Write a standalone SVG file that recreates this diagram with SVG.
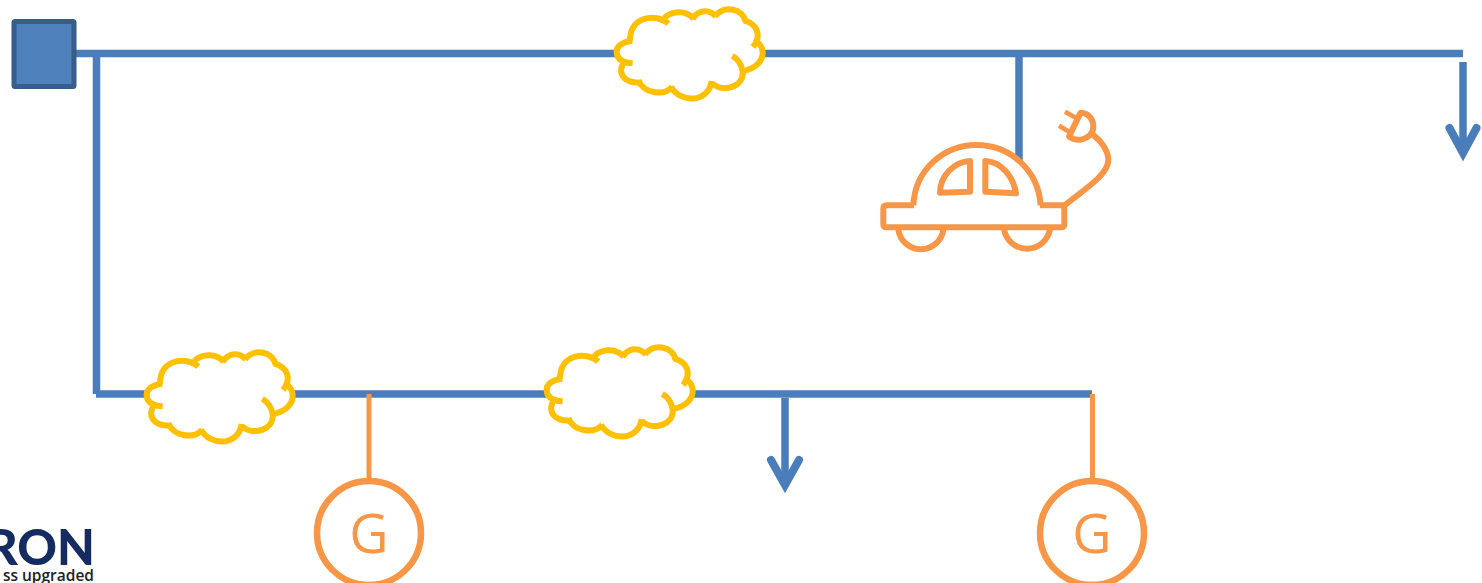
<svg xmlns="http://www.w3.org/2000/svg" width="1482" height="583" viewBox="0 0 1482 583">
<style>
.b{fill:none;stroke:#4a7ebb;stroke-width:7.500}
.o{fill:none;stroke:#f79646;stroke-width:5}
.ring{fill:none;stroke:#f79646;stroke-width:6.500}
.c{fill:none;stroke:#ffc000;stroke-width:18}
.cf{fill:#fff;stroke:none}
.car{fill:none;stroke:#f79646;stroke-width:18;stroke-linejoin:round}
.g{font-family:"Open Sans",sans-serif;font-size:54px;fill:#f79646;text-anchor:middle}
.ah{fill:none;stroke:#4a7ebb;stroke-width:8;stroke-linecap:round}
</style>
<defs>
<g id="cloud">
<path class="cf" d="M90,120C90,40 180,40 205,65C215,30 260,30 278,55C295,25 330,25 348,48C375,10 430,30 435,62C475,70 485,110 470,130C485,140 490,150 490,160C490,180 470,205 430,215C425,250 380,265 335,250C320,300 240,310 213,262C190,285 135,280 115,245C75,250 50,215 65,188C50,180 45,130 90,120Z"/>
<path class="c" d="M97,122C65,125 50,140 50,155C50,178 70,188 98,190"/>
<path class="c" d="M70,190C55,215 65,248 118,248"/>
<path class="c" d="M115,240C130,280 190,290 217,260"/>
<path class="c" d="M213,260C240,310 325,310 335,243"/>
<path class="c" d="M335,250C375,280 432,258 428,215C425,195 415,178 397,168"/>
<path class="c" d="M430,213C470,205 490,180 488,155C487,145 480,132 470,125"/>
<path class="c" d="M459,141C485,110 475,72 432,62"/>
<path class="c" d="M437,66C430,28 375,12 345,49"/>
<path class="c" d="M348,50C330,27 295,27 278,57"/>
<path class="c" d="M281,57C260,30 215,32 193,54"/>
<path class="c" d="M205,71C175,42 90,42 90,122"/>
</g>
</defs>
<g id="connectors">
<path class="b" d="M76,53.500H1463"/>
<path class="b" d="M96.500,56V394"/>
<path class="b" d="M96,394H1092"/>
<path class="b" d="M1019,56V165"/>
<path class="o" d="M369,394V482"/>
<path class="o" d="M1092.500,394V482"/>
<path class="b" d="M1463,62V150"/>
<path class="ah" d="M1449.500,128L1463,153L1476.500,128"/>
<path class="b" d="M785,398V484"/>
<path class="ah" d="M771,460L785,485L799,460"/>
</g>
<g id="source"><rect x="14" y="21.500" width="60" height="65" rx="1" fill="#4f81bd" stroke="#385d8a" stroke-width="5"/></g>
<g id="cloud-1"><use href="#cloud" transform="translate(600,0) scale(.3333)"/></g>
<g id="cloud-2"><use href="#cloud" transform="translate(130,343) scale(.3333)"/></g>
<g id="cloud-3"><use href="#cloud" transform="translate(530,338) scale(.3333)"/></g>
<g id="ev" transform="translate(870,100) scale(.3333)">
<path class="car" style="fill:#fff" d="M130,316C135,210 220,135 320,135C420,135 505,210 512,316"/>
<path class="car" d="M132,316H50Q40,316 40,326V372Q40,382 50,382H573Q583,382 583,372V316H510"/>
<path class="car" d="M85,388A68,68 0 0 0 220,388"/>
<path class="car" d="M402,388A70,70 0 0 0 540,388"/>
<path class="car" d="M300,183V275L210,278C210,230 250,185 300,183Z"/>
<path class="car" d="M346,183V275L438,280C430,230 395,185 346,183Z"/>
<path class="car" d="M585,315C640,270 715,225 715,180C715,150 690,120 670,105"/>
<path class="car" d="M632,38C660,38 672,65 670,85C665,115 625,130 597,110Z"/>
<path class="car" style="stroke-width:14" d="M585,35L620,55M567,77L600,97"/>
</g>
<g id="gen-1"><circle class="ring" cx="369" cy="533" r="52"/><text class="g" x="369" y="553">G</text></g>
<g id="gen-2"><circle class="ring" cx="1092" cy="533" r="52"/><text class="g" x="1092" y="553">G</text></g>
<g id="logo">
<text x="95" y="565" text-anchor="end" font-family="Lato,sans-serif" font-weight="900" font-size="49" fill="#152c63">RON</text>
<text x="94" y="581" text-anchor="end" font-family="'Open Sans',sans-serif" font-weight="600" font-size="15.500" fill="#222">ss upgraded</text>
</g>
</svg>
